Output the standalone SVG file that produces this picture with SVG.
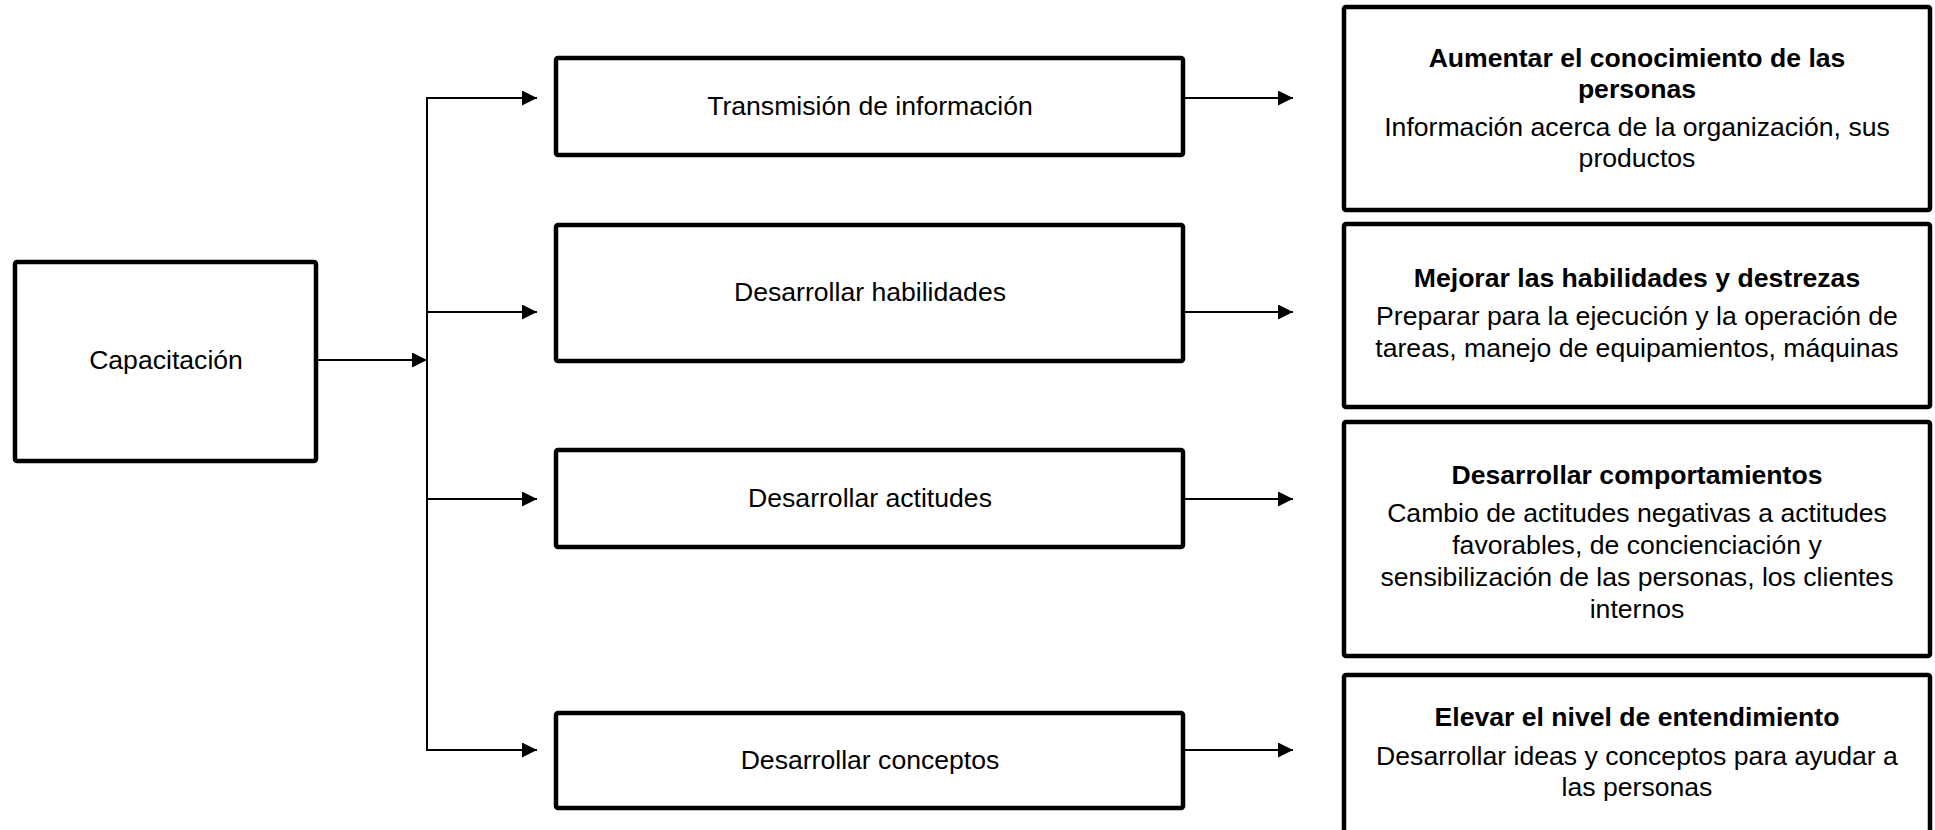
<svg xmlns="http://www.w3.org/2000/svg" width="1935" height="830" viewBox="0 0 1935 830">
  <style>
    .box { fill: #ffffff; stroke: #000000; stroke-width: 4.5; }
    .wire { fill: none; stroke: #000000; stroke-width: 2; }
    .lbl { font-family: "Liberation Sans", Arial, sans-serif; font-size: 26.6px; fill: #000000; text-anchor: middle; }
    .ttl { font-weight: bold; }
  </style>
  <defs>
    <marker id="arrow" markerUnits="userSpaceOnUse" markerWidth="16" markerHeight="16" refX="15" refY="7.5" orient="auto">
      <path d="M0,0 L15,7.5 L0,15 Z" fill="#000000"/>
    </marker>
  </defs>

  <rect width="1935" height="830" fill="#ffffff"/>

  <!-- connectors -->
  <g id="connectors">
    <line class="wire" x1="318" y1="360" x2="427" y2="360" marker-end="url(#arrow)"/>
    <line class="wire" x1="427" y1="98" x2="427" y2="750"/>
    <line class="wire" x1="426" y1="98" x2="537" y2="98" marker-end="url(#arrow)"/>
    <line class="wire" x1="426" y1="312" x2="537" y2="312" marker-end="url(#arrow)"/>
    <line class="wire" x1="426" y1="499" x2="537" y2="499" marker-end="url(#arrow)"/>
    <line class="wire" x1="426" y1="750" x2="537" y2="750" marker-end="url(#arrow)"/>
    <line class="wire" x1="1185" y1="98" x2="1293" y2="98" marker-end="url(#arrow)"/>
    <line class="wire" x1="1185" y1="312" x2="1293" y2="312" marker-end="url(#arrow)"/>
    <line class="wire" x1="1185" y1="499" x2="1293" y2="499" marker-end="url(#arrow)"/>
    <line class="wire" x1="1185" y1="750" x2="1293" y2="750" marker-end="url(#arrow)"/>
  </g>

  <!-- root -->
  <g id="capacitacion">
    <rect class="box" x="15" y="262" width="301" height="199" rx="2"/>
    <text class="lbl" x="166" y="369">Capacitación</text>
  </g>

  <!-- middle column -->
  <g id="transmision">
    <rect class="box" x="556" y="58" width="627" height="97" rx="2"/>
    <text class="lbl" x="870" y="115">Transmisión de información</text>
  </g>
  <g id="habilidades">
    <rect class="box" x="556" y="225" width="627" height="136" rx="2"/>
    <text class="lbl" x="870" y="301">Desarrollar habilidades</text>
  </g>
  <g id="actitudes">
    <rect class="box" x="556" y="450" width="627" height="97" rx="2"/>
    <text class="lbl" x="870" y="507">Desarrollar actitudes</text>
  </g>
  <g id="conceptos">
    <rect class="box" x="556" y="713" width="627" height="95" rx="2"/>
    <text class="lbl" x="870" y="769">Desarrollar conceptos</text>
  </g>

  <!-- right column -->
  <g id="conocimiento">
    <rect class="box" x="1344" y="7" width="586" height="203" rx="2"/>
    <text class="lbl ttl" x="1637" y="67">Aumentar el conocimiento de las</text>
    <text class="lbl ttl" x="1637" y="98">personas</text>
    <text class="lbl" x="1637" y="136">Información acerca de la organización, sus</text>
    <text class="lbl" x="1637" y="167">productos</text>
  </g>
  <g id="destrezas">
    <rect class="box" x="1344" y="224" width="586" height="183" rx="2"/>
    <text class="lbl ttl" x="1637" y="287">Mejorar las habilidades y destrezas</text>
    <text class="lbl" x="1637" y="325">Preparar para la ejecución y la operación de</text>
    <text class="lbl" x="1637" y="357">tareas, manejo de equipamientos, máquinas</text>
  </g>
  <g id="comportamientos">
    <rect class="box" x="1344" y="422" width="586" height="234" rx="2"/>
    <text class="lbl ttl" x="1637" y="484">Desarrollar comportamientos</text>
    <text class="lbl" x="1637" y="522">Cambio de actitudes negativas a actitudes</text>
    <text class="lbl" x="1637" y="554">favorables, de concienciación y</text>
    <text class="lbl" x="1637" y="586">sensibilización de las personas, los clientes</text>
    <text class="lbl" x="1637" y="618">internos</text>
  </g>
  <g id="entendimiento">
    <rect class="box" x="1344" y="675" width="586" height="160" rx="2"/>
    <text class="lbl ttl" x="1637" y="726">Elevar el nivel de entendimiento</text>
    <text class="lbl" x="1637" y="765">Desarrollar ideas y conceptos para ayudar a</text>
    <text class="lbl" x="1637" y="796">las personas</text>
  </g>
</svg>
